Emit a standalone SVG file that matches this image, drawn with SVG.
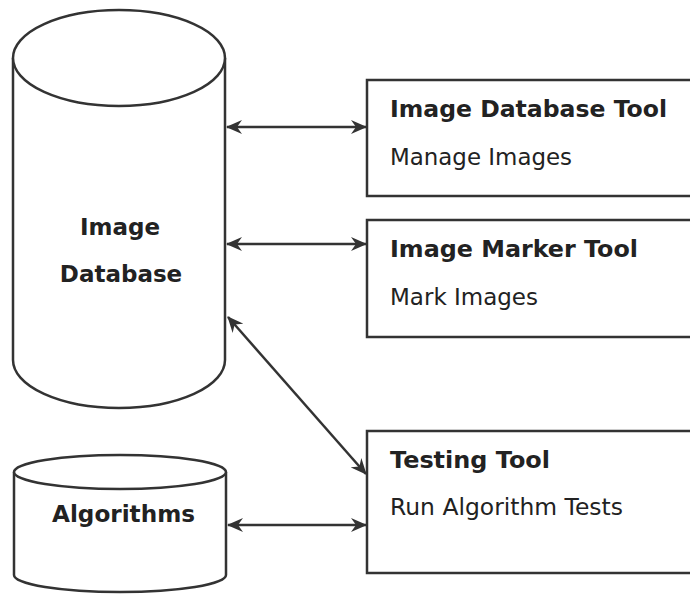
<svg xmlns="http://www.w3.org/2000/svg" width="690" height="595" viewBox="0 0 690 595">
<defs>
<style>
.shape{fill:#fff;stroke:#333;stroke-width:2.5}
.edge{fill:none;stroke:#333;stroke-width:2.5}
.t{font-family:"DejaVu Sans",Verdana,sans-serif;font-size:23px;fill:#222}
.b{font-weight:bold}
</style>
<marker id="ah" viewBox="0 0 16 14" refX="15" refY="7" markerWidth="16" markerHeight="14" markerUnits="userSpaceOnUse" orient="auto-start-reverse">
<path d="M0,0 L16,7 L0,14 L5,7 Z" fill="#333"/>
</marker>
</defs>
<rect width="690" height="595" fill="#fff"/>
<g id="image-database">
<path class="shape" d="M13,58 L13,360 A106,48 0 0 0 225,360 L225,58"/>
<ellipse class="shape" cx="119" cy="58" rx="106" ry="48"/>
<text class="t b" x="120" y="235" text-anchor="middle">Image</text>
<text class="t b" x="121" y="282" text-anchor="middle">Database</text>
</g>
<g id="algorithms">
<path class="shape" d="M14,472 L14,575 A106,17 0 0 0 226,575 L226,472"/>
<ellipse class="shape" cx="120" cy="472" rx="106" ry="17"/>
<text class="t b" x="123.5" y="522" text-anchor="middle" textLength="143" lengthAdjust="spacingAndGlyphs">Algorithms</text>
</g>
<g id="image-database-tool">
<rect class="shape" x="367" y="80" width="340" height="116"/>
<text class="t b" x="390" y="117" textLength="277" lengthAdjust="spacingAndGlyphs">Image Database Tool</text>
<text class="t" x="390" y="165" textLength="182" lengthAdjust="spacingAndGlyphs">Manage Images</text>
</g>
<g id="image-marker-tool">
<rect class="shape" x="367" y="220" width="340" height="117"/>
<text class="t b" x="390" y="257" textLength="248" lengthAdjust="spacingAndGlyphs">Image Marker Tool</text>
<text class="t" x="390" y="305" textLength="148" lengthAdjust="spacingAndGlyphs">Mark Images</text>
</g>
<g id="testing-tool">
<rect class="shape" x="367" y="431" width="340" height="142"/>
<text class="t b" x="390" y="468" textLength="160" lengthAdjust="spacingAndGlyphs">Testing Tool</text>
<text class="t" x="390" y="515" textLength="233" lengthAdjust="spacingAndGlyphs">Run Algorithm Tests</text>
</g>
<g id="connectors">
<line class="edge" x1="227" y1="127" x2="366" y2="127" marker-start="url(#ah)" marker-end="url(#ah)"/>
<line class="edge" x1="227" y1="244" x2="366" y2="244" marker-start="url(#ah)" marker-end="url(#ah)"/>
<line class="edge" x1="228" y1="317" x2="366" y2="474" marker-start="url(#ah)" marker-end="url(#ah)"/>
<line class="edge" x1="228" y1="525" x2="366" y2="525" marker-start="url(#ah)" marker-end="url(#ah)"/>
</g>
</svg>
